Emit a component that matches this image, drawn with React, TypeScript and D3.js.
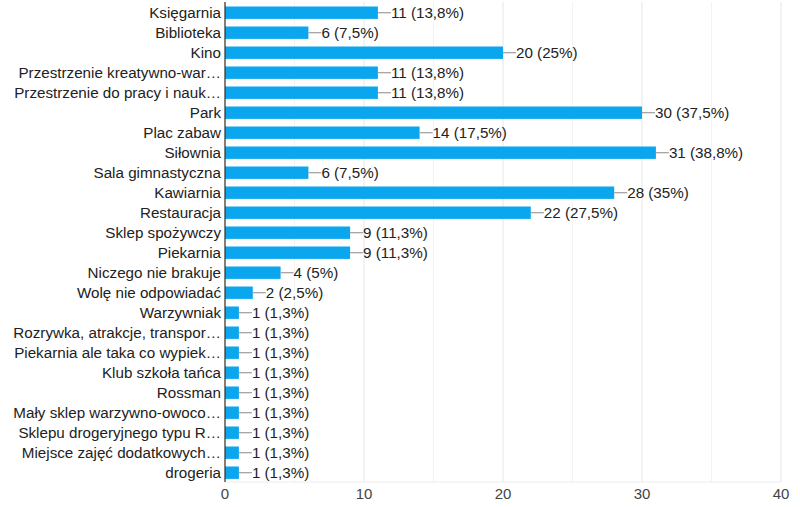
import React from "react";
import * as d3 from "d3";

const categories = [
  "Księgarnia",
  "Biblioteka",
  "Kino",
  "Przestrzenie kreatywno-war…",
  "Przestrzenie do pracy i nauk…",
  "Park",
  "Plac zabaw",
  "Siłownia",
  "Sala gimnastyczna",
  "Kawiarnia",
  "Restauracja",
  "Sklep spożywczy",
  "Piekarnia",
  "Niczego nie brakuje",
  "Wolę nie odpowiadać",
  "Warzywniak",
  "Rozrywka, atrakcje, transpor…",
  "Piekarnia ale taka co wypiek…",
  "Klub szkoła tańca",
  "Rossman",
  "Mały sklep warzywno-owoco…",
  "Sklepu drogeryjnego typu R…",
  "Miejsce zajęć dodatkowych…",
  "drogeria",
];
const counts = [11, 6, 20, 11, 11, 30, 14, 31, 6, 28, 22, 9, 9, 4, 2, 1, 1, 1, 1, 1, 1, 1, 1, 1];
const percents = [
  "13,8%", "7,5%", "25%", "13,8%", "13,8%", "37,5%", "17,5%", "38,8%", "7,5%", "35%", "27,5%",
  "11,3%", "11,3%", "5%", "2,5%", "1,3%", "1,3%", "1,3%", "1,3%", "1,3%", "1,3%", "1,3%", "1,3%", "1,3%",
];
const majorTicks = [0, 10, 20, 30, 40];
const minorTicks = [5, 15, 25, 35];

const W = 800;
const H = 507;
const font = "'Liberation Sans', Arial, sans-serif";

export default function App() {
  const x = d3.scaleLinear().domain([0, 40]).range([225, 781]);
  const y = d3.scaleBand<string>().domain(categories).range([2.7, 482.7]).paddingInner(0.38).paddingOuter(0.19);
  const bw = y.bandwidth();
  const top = 2;
  const bottom = 482;
  return (
    <svg width={W} height={H} style={{ position: "absolute", left: 0, top: 0, background: "#fff" }}>
      {minorTicks.map((t) => (
        <line key={"m" + t} x1={x(t)} x2={x(t)} y1={top} y2={bottom} stroke="#f3f3f3" strokeWidth={1} />
      ))}
      {majorTicks.map((t) => (
        <line key={"g" + t} x1={x(t)} x2={x(t)} y1={top} y2={bottom} stroke="#e6e6e6" strokeWidth={1} />
      ))}
      <line x1={x(0)} x2={x(40)} y1={bottom} y2={bottom} stroke="#ececec" strokeWidth={1} />
      {categories.map((c, i) => {
        const yy = y(c)!;
        const cy = yy + bw / 2;
        const xe = x(counts[i]);
        return (
          <g key={c}>
            <rect x={x(0)} y={yy} width={xe - x(0)} height={bw} fill="#0ba7ee" />
            <line x1={xe} x2={xe + 13} y1={cy} y2={cy} stroke="#9e9e9e" strokeWidth={1.2} />
            <text x={xe + 13} y={cy} dy="0.35em" fontFamily={font} fontSize={15.2} fill="#222">
              {`${counts[i]} (${percents[i]})`}
            </text>
            <text x={221} y={cy} dy="0.35em" textAnchor="end" fontFamily={font} fontSize={15.2} fill="#222">
              {c}
            </text>
          </g>
        );
      })}
      <line x1={x(0)} x2={x(0)} y1={top} y2={bottom} stroke="#333" strokeWidth={1.2} />
      {majorTicks.map((t) => (
        <text key={"t" + t} x={x(t)} y={499} textAnchor="middle" fontFamily={font} fontSize={15} fill="#444">
          {t}
        </text>
      ))}
    </svg>
  );
}
